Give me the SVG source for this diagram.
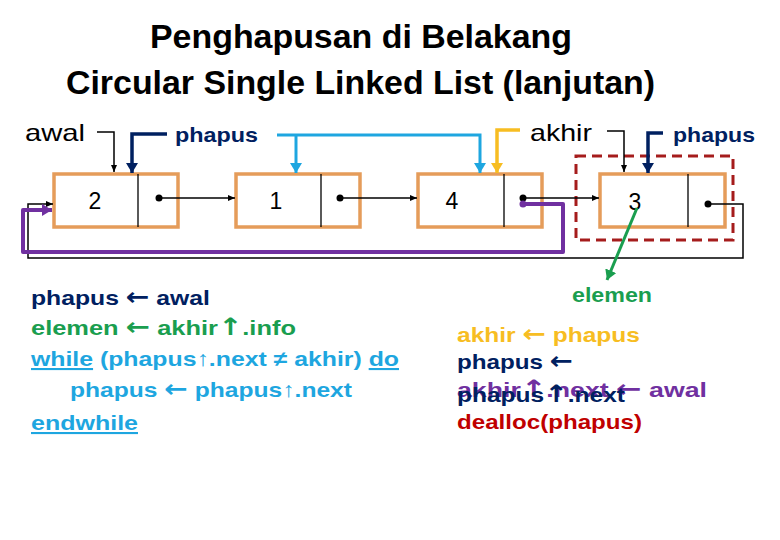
<svg xmlns="http://www.w3.org/2000/svg" width="780" height="540" viewBox="0 0 780 540">
<style>
.title{font-family:"Liberation Sans",Arial,sans-serif;font-weight:bold;font-size:33px;fill:#000}
.box{fill:#fff;stroke:#e59c5a;stroke-width:3.5}
.div{stroke:#000;stroke-width:1.3}
.num{font-family:"Liberation Sans",Arial,sans-serif;font-size:23px;fill:#000;text-anchor:middle}
.ptr{font-family:"Liberation Sans",Arial,sans-serif;font-size:24px;fill:#000}
.ptrb{font-family:"Liberation Sans",Arial,sans-serif;font-size:21px;font-weight:bold;fill:#002060}
.code{font-family:"Liberation Sans",Arial,sans-serif;font-size:21px;font-weight:bold}
.arr{font-family:"DejaVu Sans",sans-serif;font-size:24px;font-weight:bold}
.thin{fill:none;stroke:#000;stroke-width:1.5}
.u{text-decoration:underline}
</style>
<defs>
<marker id="ak" markerWidth="8" markerHeight="8" refX="7" refY="4" orient="auto" markerUnits="userSpaceOnUse"><path d="M0,1 L7,4 L0,7 Z" fill="#000"/></marker>
<marker id="an" markerWidth="12" markerHeight="12" refX="10" refY="6" orient="auto" markerUnits="userSpaceOnUse"><path d="M0,0 L10,6 L0,12 Z" fill="#002060"/></marker>
<marker id="ab" markerWidth="12" markerHeight="12" refX="10" refY="6" orient="auto" markerUnits="userSpaceOnUse"><path d="M0,0 L10,6 L0,12 Z" fill="#1ea6e0"/></marker>
<marker id="ay" markerWidth="12" markerHeight="12" refX="10" refY="6" orient="auto" markerUnits="userSpaceOnUse"><path d="M0,0 L10,6 L0,12 Z" fill="#f7bd22"/></marker>
<marker id="ap" markerWidth="12" markerHeight="12" refX="10" refY="6" orient="auto" markerUnits="userSpaceOnUse"><path d="M0,0 L10,6 L0,12 Z" fill="#7030a0"/></marker>
<marker id="ag" markerWidth="12" markerHeight="12" refX="10" refY="6" orient="auto" markerUnits="userSpaceOnUse"><path d="M0,0 L10,6 L0,12 Z" fill="#1a9e4f"/></marker>
</defs>
<rect width="780" height="540" fill="#fff"/>
<g id="title">
<text class="title" x="150" y="48" textLength="422" lengthAdjust="spacingAndGlyphs">Penghapusan di Belakang</text>
<text class="title" x="66" y="94" textLength="589" lengthAdjust="spacingAndGlyphs">Circular Single Linked List (lanjutan)</text>
</g>
<g id="node-2"><rect class="box" x="54" y="174" width="124" height="53"/><line class="div" x1="138" y1="174" x2="138" y2="227"/><text class="num" x="95" y="209">2</text></g>
<g id="node-1"><rect class="box" x="236" y="174" width="124" height="53"/><line class="div" x1="321" y1="174" x2="321" y2="227"/><text class="num" x="276" y="209">1</text></g>
<g id="node-4"><rect class="box" x="418" y="174" width="124" height="53"/><line class="div" x1="504" y1="174" x2="504" y2="227"/><text class="num" x="452" y="209">4</text></g>
<g id="node-3"><rect class="box" x="600" y="174" width="125" height="53"/><line class="div" x1="688" y1="174" x2="688" y2="227"/><text class="num" x="635" y="210">3</text></g>
<g id="deleted-frame"><rect x="576" y="156" width="157" height="84" fill="none" stroke="#a51c1c" stroke-width="3" stroke-dasharray="10,6"/></g>
<g id="labels">
<text class="ptr" x="25" y="141" textLength="60" lengthAdjust="spacingAndGlyphs">awal</text>
<text class="ptrb" x="175" y="142" textLength="83" lengthAdjust="spacingAndGlyphs">phapus</text>
<text class="ptr" x="530" y="141" textLength="62" lengthAdjust="spacingAndGlyphs">akhir</text>
<text class="ptrb" x="673" y="142" textLength="82" lengthAdjust="spacingAndGlyphs">phapus</text>
<text class="code" x="572" y="302" fill="#1a9e4f" textLength="80" lengthAdjust="spacingAndGlyphs">elemen</text>
</g>
<g id="connectors">
<circle cx="159" cy="198" r="3.5"/><path class="thin" d="M159,198 H235" marker-end="url(#ak)"/>
<circle cx="340" cy="198" r="3.5"/><path class="thin" d="M340,198 H417" marker-end="url(#ak)"/>
<circle cx="523" cy="198" r="3.5"/><path class="thin" d="M523,198 H599" marker-end="url(#ak)"/>
<circle cx="708" cy="204" r="3.5"/><path class="thin" d="M708,204 H743 V258 H28 V204 H53" marker-end="url(#ak)"/>
<path d="M523,204 H563 V252 H23 V210 H52" fill="none" stroke="#7030a0" stroke-width="4" stroke-linejoin="round" marker-end="url(#ap)"/>
<circle cx="523" cy="204" r="3.5" fill="#7030a0"/>
<path class="thin" d="M97,132 H114 V172" marker-end="url(#ak)"/>
<path class="thin" d="M607,131 H624 V172" marker-end="url(#ak)"/>
<path d="M167,134 H132 V173" fill="none" stroke="#002060" stroke-width="3.5" marker-end="url(#an)"/>
<path d="M663,133 H648 V173" fill="none" stroke="#002060" stroke-width="3.5" marker-end="url(#an)"/>
<path d="M277,135 H480 V173" fill="none" stroke="#1ea6e0" stroke-width="3" marker-end="url(#ab)"/>
<path d="M296,135 V173" fill="none" stroke="#1ea6e0" stroke-width="3" marker-end="url(#ab)"/>
<path d="M520,130 H497 V173" fill="none" stroke="#f7bd22" stroke-width="3.5" marker-end="url(#ay)"/>
<path d="M637,208 L607,280" fill="none" stroke="#1a9e4f" stroke-width="3" marker-end="url(#ag)"/>
</g>
<g id="code-left">
<text class="code" x="31" y="305" fill="#002060" textLength="179" lengthAdjust="spacingAndGlyphs">phapus <tspan class="arr">←</tspan> awal</text>
<text class="code" x="31" y="335" fill="#1a9e4f" textLength="265" lengthAdjust="spacingAndGlyphs">elemen <tspan class="arr">←</tspan> akhir<tspan class="arr">↑</tspan>.info</text>
<text class="code" x="31" y="366" fill="#1ea6e0" textLength="368" lengthAdjust="spacingAndGlyphs"><tspan class="u">while</tspan> (phapus↑.next ≠ akhir) <tspan class="u">do</tspan></text>
<text class="code" x="70" y="397" fill="#1ea6e0" textLength="282" lengthAdjust="spacingAndGlyphs">phapus <tspan class="arr">←</tspan> phapus↑.next</text>
<text class="code u" x="31" y="430" fill="#1ea6e0" textLength="107" lengthAdjust="spacingAndGlyphs">endwhile</text>
</g>
<g id="code-right">
<text class="code" x="457" y="342" fill="#f7bd22" textLength="183" lengthAdjust="spacingAndGlyphs">akhir <tspan class="arr">←</tspan> phapus</text>
<text class="code" x="457" y="369" fill="#002060" textLength="116" lengthAdjust="spacingAndGlyphs">phapus <tspan class="arr">←</tspan></text>
<text class="code" x="457" y="397" fill="#7030a0" textLength="250" lengthAdjust="spacingAndGlyphs">akhir<tspan class="arr">↑</tspan>.next <tspan class="arr">←</tspan> awal</text>
<text class="code" x="457" y="402" fill="#002060" textLength="168" lengthAdjust="spacingAndGlyphs">phapus<tspan class="arr">↑</tspan>.next</text>
<text class="code" x="457" y="429" fill="#c00000" textLength="185" lengthAdjust="spacingAndGlyphs">dealloc(phapus)</text>
</g>
</svg>
